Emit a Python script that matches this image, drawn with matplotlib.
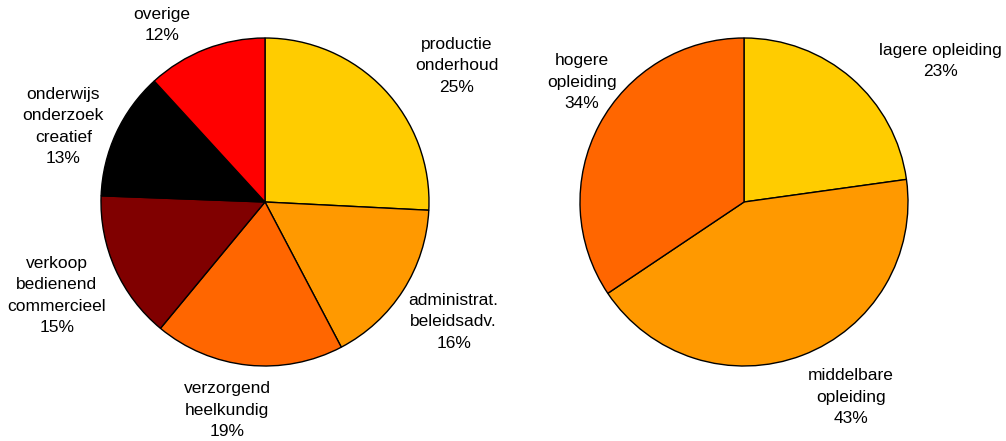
import matplotlib.pyplot as plt

plt.rcParams['font.family'] = ['Liberation Sans', 'DejaVu Sans']

# beroep (left pie)
beroep_labels = ['productie\nonderhoud', 'administrat.\nbeleidsadv.', 'verzorgend\nheelkundig',
                 'verkoop\nbedienend\ncommercieel', 'onderwijs\nonderzoek\ncreatief', 'overige']
beroep_pct = [25, 16, 19, 15, 13, 12]          # as printed in the labels
beroep_share = [25.8, 16.5, 18.7, 14.6, 12.6, 11.8]  # wedge sizes as drawn
beroep_colors = ['#FFCC00', '#FF9900', '#FF6600', '#800000', '#000000', '#FF0000']

# opleiding (right pie)
opl_labels = ['lagere opleiding', 'middelbare\nopleiding', 'hogere\nopleiding']
opl_pct = [23, 43, 34]
opl_share = [22.8, 42.8, 34.4]
opl_colors = ['#FFCC00', '#FF9900', '#FF6600']

# label centres, in units of the pie radius, relative to the pie centre
beroep_lab_pos = [(1.17, 0.83), (1.15, -0.73), (-0.23, -1.27), (-1.27, -0.57), (-1.23, 0.46), (-0.63, 1.08)]
opl_lab_pos = [(1.20, 0.86), (0.65, -1.19), (-0.99, 0.73)]

W, H = 1006, 441
R = 164
fig = plt.figure(figsize=(W / 100, H / 100), dpi=100)
ax = fig.add_axes([0, 0, 1, 1])


def draw_pie(vals, pct, labels, colors, center, lab_pos):
    ax.pie(vals, colors=colors, startangle=90, counterclock=False, radius=R, center=center,
           wedgeprops=dict(edgecolor='black', linewidth=1.0), frame=True)
    for lab, v, (dx, dy) in zip(labels, pct, lab_pos):
        ax.text(center[0] + dx * R, center[1] + dy * R, f'{lab}\n{v}%', ha='center', va='center',
                fontsize=12.5, linespacing=1.55, multialignment='center')


draw_pie(beroep_share, beroep_pct, beroep_labels, beroep_colors, (265, 239), beroep_lab_pos)
draw_pie(opl_share, opl_pct, opl_labels, opl_colors, (744, 239), opl_lab_pos)

ax.set_xlim(0, W)
ax.set_ylim(0, H)
ax.set_aspect('auto')
ax.axis('off')

fig.savefig('out.png', dpi=100)
